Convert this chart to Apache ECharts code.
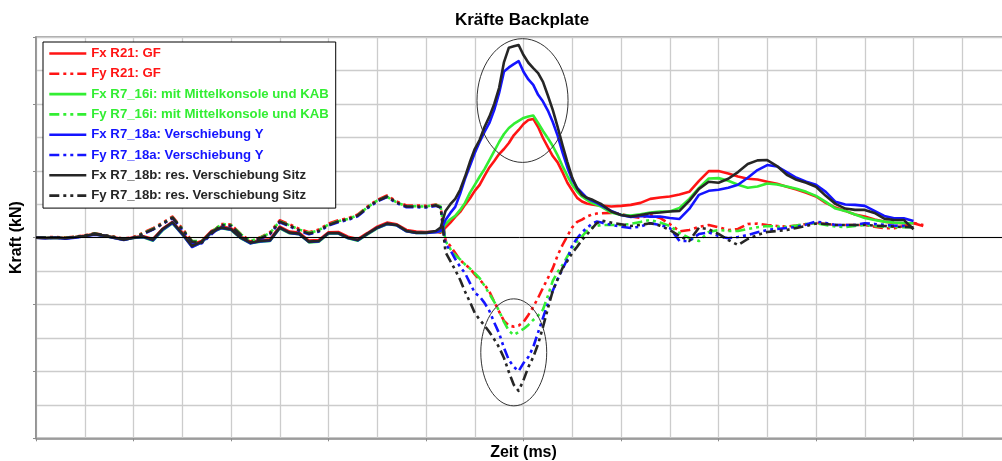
<!DOCTYPE html>
<html>
<head>
<meta charset="utf-8">
<script src="https://cdn.jsdelivr.net/npm/echarts@6/dist/echarts.min.js"></script>
<style>
  html, body { margin: 0; padding: 0; background: #fff; }
  #chart { width: 1002px; height: 461px; }
</style>
</head>
<body>
<div id="chart"></div>
<script>
// Sample times (ms); finer steps around the main impact
const timeMs = [
  0, 1, 2, 3, 4, 5, 6, 7, 8, 9, 10, 11, 12, 13, 14, 15, 16, 17, 18, 19, 20,
  21, 22, 23, 24, 25, 26, 27, 28, 29, 30, 31, 32, 33, 34, 35, 36, 37, 38, 39, 40, 41,
  41.5, 42, 42.5, 43, 43.5, 44, 44.5, 45, 45.5, 46, 46.5, 47, 47.5, 48, 48.5, 49, 49.5,
  50, 50.5, 51, 51.5, 52, 52.5, 53, 53.5, 54, 54.5, 55, 55.5, 56, 56.5, 57, 57.5, 58,
  59, 60, 61, 62, 63, 64, 65, 66, 67, 68, 69, 70, 71, 72, 73, 74, 75, 76, 77, 78, 79,
  80, 81, 82, 83, 84, 85, 86, 87, 88, 89, 90, 91
];

// Forces (kN) per load case
const fxR21 = [
  0.0, -0.01, 0.01, -0.01, 0.02, 0.06, 0.11, 0.06, 0.01, -0.05, 0.01, 0.04, -0.04, 0.27, 0.47, 0.15, -0.2, -0.1, 0.2, 0.33, 0.28,
  0.03, -0.12, -0.08, -0.05, 0.33, 0.18, 0.15, -0.09, -0.07, 0.16, 0.17, 0.03, -0.04, 0.14, 0.33, 0.45, 0.4, 0.23, 0.18, 0.17, 0.18,
  0.15, 0.3, 0.45, 0.62, 0.77, 0.98, 1.17, 1.4, 1.58, 1.85, 2.1, 2.29, 2.5, 2.65, 2.83, 3.06, 3.22,
  3.4, 3.52, 3.55, 3.31, 2.98, 2.71, 2.44, 2.25, 1.96, 1.64, 1.41, 1.19, 1.08, 1.02, 0.99, 0.97, 0.96,
  0.93, 0.95, 0.98, 1.04, 1.16, 1.2, 1.23, 1.29, 1.37, 1.7, 1.99, 1.99, 1.92, 1.83, 1.76, 1.74, 1.67, 1.61, 1.52, 1.44, 1.34,
  1.23, 1.04, 0.9, 0.8, 0.69, 0.63, 0.54, 0.48, 0.44, 0.43, 0.43, 0.35
];
const fyR21 = [
  0.0, 0.01, 0.02, 0.0, 0.03, 0.07, 0.13, 0.08, 0.03, -0.03, 0.02, 0.15, 0.28, 0.45, 0.63, 0.28, -0.1, -0.12, 0.15, 0.41, 0.39,
  0.11, -0.11, 0.01, 0.16, 0.52, 0.4, 0.26, 0.16, 0.24, 0.42, 0.52, 0.58, 0.69, 0.93, 1.13, 1.26, 1.08, 0.96, 0.96, 0.95, 0.99,
  0.92, -0.07, -0.25, -0.46, -0.67, -0.8, -0.92, -1.1, -1.26, -1.41, -1.61, -1.92, -2.21, -2.49, -2.63, -2.66, -2.63,
  -2.52, -2.31, -2.07, -1.8, -1.5, -1.21, -0.92, -0.53, -0.22, 0.05, 0.31, 0.47, 0.54, 0.63, 0.69, 0.72, 0.73,
  0.74, 0.71, 0.63, 0.59, 0.68, 0.59, 0.41, 0.19, 0.23, 0.32, 0.38, 0.31, 0.23, 0.26, 0.41, 0.42, 0.38, 0.35, 0.33, 0.36, 0.41,
  0.44, 0.41, 0.38, 0.38, 0.38, 0.38, 0.33, 0.28, 0.28, 0.35, 0.44, 0.38
];
const fxR716i = [
  0.0, -0.01, 0.0, -0.02, 0.01, 0.05, 0.1, 0.05, 0.0, -0.06, -0.01, 0.01, -0.09, 0.22, 0.43, 0.1, -0.27, -0.15, 0.15, 0.28, 0.23,
  -0.02, -0.17, -0.12, -0.1, 0.28, 0.13, 0.1, -0.14, -0.12, 0.12, 0.12, -0.02, -0.09, 0.1, 0.28, 0.4, 0.37, 0.19, 0.14, 0.14, 0.17,
  0.18, 0.4, 0.55, 0.65, 0.83, 1.04, 1.34, 1.58, 1.82, 2.05, 2.32, 2.59, 2.86, 3.1, 3.28, 3.4, 3.49,
  3.58, 3.62, 3.65, 3.43, 3.19, 2.97, 2.74, 2.46, 2.14, 1.85, 1.58, 1.38, 1.23, 1.13, 1.04, 0.98, 0.92,
  0.75, 0.68, 0.66, 0.7, 0.75, 0.78, 0.78, 0.89, 1.16, 1.49, 1.77, 1.78, 1.7, 1.58, 1.49, 1.53, 1.62, 1.59, 1.53, 1.46, 1.37,
  1.25, 1.07, 0.87, 0.8, 0.69, 0.59, 0.53, 0.48, 0.45, 0.44, 0.43, null
];
const fyR716i = [
  0.0, 0.0, 0.01, -0.01, 0.02, 0.06, 0.12, 0.07, 0.02, -0.04, 0.0, 0.13, 0.26, 0.43, 0.6, 0.26, -0.1, -0.1, 0.16, 0.4, 0.38,
  0.1, -0.1, 0.0, 0.14, 0.49, 0.37, 0.24, 0.14, 0.22, 0.39, 0.49, 0.56, 0.67, 0.91, 1.11, 1.22, 1.05, 0.94, 0.94, 0.93, 0.98,
  0.93, -0.1, -0.34, -0.52, -0.65, -0.8, -0.92, -1.06, -1.21, -1.44, -1.68, -1.92, -2.19, -2.52, -2.79, -2.91, -2.82,
  -2.73, -2.61, -2.46, -2.33, -2.15, -1.74, -1.29, -1.03, -0.82, -0.56, -0.31, -0.11, 0.04, 0.2, 0.3, 0.35, 0.38,
  0.38, 0.38, 0.41, 0.47, 0.53, 0.45, 0.35, 0.14, -0.01, -0.1, 0.17, 0.23, 0.2, 0.2, 0.26, 0.31, 0.35, 0.33, 0.32, 0.36, 0.41,
  0.43, 0.38, 0.33, 0.32, 0.35, 0.38, 0.35, 0.33, 0.32, 0.31, 0.31, null
];
const fxR718a = [
  0.0, -0.02, 0.0, -0.03, 0.0, 0.04, 0.09, 0.06, -0.01, -0.07, 0.0, 0.02, -0.08, 0.24, 0.44, 0.1, -0.28, -0.14, 0.16, 0.29, 0.24,
  -0.01, -0.17, -0.11, -0.09, 0.29, 0.14, 0.1, -0.13, -0.11, 0.13, 0.13, -0.01, -0.08, 0.11, 0.29, 0.41, 0.37, 0.19, 0.14, 0.14, 0.16,
  0.2, 0.53, 0.74, 0.92, 1.31, 1.76, 2.14, 2.53, 2.86, 3.16, 3.43, 3.82, 4.33, 4.97, 5.09, 5.19, 5.28,
  4.96, 4.73, 4.57, 4.27, 4.07, 3.8, 3.46, 3.05, 2.55, 2.1, 1.73, 1.49, 1.34, 1.19, 1.11, 1.04, 0.96,
  0.8, 0.68, 0.62, 0.65, 0.63, 0.63, 0.59, 0.56, 0.86, 1.28, 1.4, 1.43, 1.49, 1.58, 1.79, 2.02, 2.17, 2.13, 1.96, 1.79, 1.67,
  1.58, 1.37, 1.07, 0.99, 0.98, 0.95, 0.8, 0.65, 0.58, 0.58, 0.5, null
];
const fyR718a = [
  0.0, -0.01, 0.0, -0.02, 0.01, 0.05, 0.11, 0.06, 0.01, -0.05, -0.01, 0.11, 0.24, 0.41, 0.58, 0.23, -0.15, -0.17, 0.1, 0.36, 0.34,
  0.06, -0.16, -0.04, 0.1, 0.46, 0.34, 0.2, 0.1, 0.18, 0.36, 0.46, 0.53, 0.64, 0.88, 1.08, 1.21, 1.03, 0.91, 0.91, 0.9, 0.95,
  0.9, -0.2, -0.37, -0.64, -0.87, -1.06, -1.35, -1.65, -1.76, -1.95, -2.19, -2.54, -2.86, -3.3, -3.66, -3.86, -3.99,
  -3.75, -3.57, -3.27, -2.83, -2.4, -1.97, -1.59, -1.25, -0.94, -0.64, -0.23, -0.02, 0.16, 0.29, 0.41, 0.48, 0.45,
  0.38, 0.33, 0.29, 0.33, 0.43, 0.38, 0.29, -0.1, -0.1, 0.11, 0.16, 0.05, -0.02, 0.02, 0.08, 0.16, 0.23, 0.26, 0.29, 0.32, 0.39,
  0.48, 0.44, 0.38, 0.38, 0.38, 0.43, 0.41, 0.38, 0.36, 0.35, 0.31, null
];
const fxR718b = [
  0.0, -0.01, 0.0, -0.02, 0.01, 0.05, 0.1, 0.06, 0.0, -0.06, 0.0, 0.03, -0.06, 0.26, 0.46, 0.12, -0.25, -0.12, 0.18, 0.3, 0.25,
  0.0, -0.15, -0.1, -0.08, 0.3, 0.15, 0.12, -0.12, -0.1, 0.14, 0.14, 0.0, -0.07, 0.12, 0.3, 0.42, 0.38, 0.2, 0.15, 0.15, 0.2,
  0.3, 0.8, 1.0, 1.16, 1.43, 1.82, 2.26, 2.65, 2.92, 3.31, 3.62, 4.0, 4.48, 5.25, 5.68, 5.72, 5.76,
  5.46, 5.23, 5.07, 4.92, 4.66, 4.25, 3.82, 3.31, 2.77, 2.26, 1.79, 1.47, 1.28, 1.19, 1.14, 1.07, 1.0,
  0.78, 0.68, 0.63, 0.68, 0.73, 0.75, 0.78, 0.8, 1.1, 1.46, 1.67, 1.64, 1.76, 1.96, 2.2, 2.31, 2.32, 2.14, 1.88, 1.73, 1.64,
  1.52, 1.25, 1.01, 0.87, 0.83, 0.83, 0.74, 0.57, 0.53, 0.53, 0.25, null
];
const fyR718b = [
  0.0, 0.0, 0.01, -0.01, 0.02, 0.06, 0.12, 0.07, 0.02, -0.04, 0.0, 0.12, 0.25, 0.42, 0.6, 0.25, -0.12, -0.15, 0.12, 0.38, 0.36,
  0.08, -0.14, -0.02, 0.12, 0.48, 0.36, 0.22, 0.12, 0.2, 0.38, 0.48, 0.55, 0.66, 0.9, 1.1, 1.23, 1.05, 0.93, 0.93, 0.92, 0.97,
  0.9, -0.43, -0.7, -0.97, -1.26, -1.61, -1.92, -2.25, -2.45, -2.63, -2.82, -3.04, -3.28, -3.6, -4.02, -4.4, -4.58,
  -4.26, -3.87, -3.57, -3.18, -2.67, -2.12, -1.59, -1.24, -0.91, -0.7, -0.46, -0.27, -0.07, 0.09, 0.26, 0.43, 0.51,
  0.45, 0.4, 0.35, 0.38, 0.43, 0.36, 0.23, 0.05, -0.1, 0.3, 0.25, 0.11, -0.07, -0.22, -0.04, 0.08, 0.17, 0.2, 0.23, 0.29, 0.35,
  0.42, 0.41, 0.38, 0.38, 0.38, 0.38, 0.36, 0.35, 0.33, 0.32, 0.31, null
];

const seriesNames = [
  'Fx R21: GF',
  'Fy R21: GF',
  'Fx R7_16i: mit Mittelkonsole und KAB',
  'Fy R7_16i: mit Mittelkonsole und KAB',
  'Fx R7_18a: Verschiebung Y',
  'Fy R7_18a: Verschiebung Y',
  'Fx R7_18b: res. Verschiebung Sitz',
  'Fy R7_18b: res. Verschiebung Sitz'
];
const seriesValues = [fxR21, fyR21, fxR716i, fyR716i, fxR718a, fyR718a, fxR718b, fyR718b];
const seriesColors = ['#ff1414', '#ff1414', '#33ee33', '#33ee33', '#1414ff', '#1414ff', '#262626', '#262626'];

// Highlight ellipses: centre time, centre force, half-width (ms), half-height (kN)
const highlightEllipses = [
  [49.9, 4.1, 4.67, 1.85],
  [49.0, -3.43, 3.38, 1.6]
];

const FONT = '"Liberation Sans", Arial, sans-serif';
const GRID_COLOR = '#cccccc';
const FRAME_COLOR = '#8c8c8c';
const DASH_DOT_DOT = [10, 4, 3, 4, 3, 4];

function toPairs(vals) {
  return timeMs.map((t, i) => [t, vals[i] == null ? null : vals[i]]);
}

const lineSeries = seriesNames.map((name, i) => {
  const s = {
    name: name,
    type: 'line',
    data: toPairs(seriesValues[i]),
    symbol: 'none',
    showSymbol: false,
    animation: false,
    silent: true,
    lineStyle: {
      color: seriesColors[i],
      width: 2.6,
      type: name.startsWith('Fy') ? DASH_DOT_DOT : 'solid',
      join: 'round'
    },
    itemStyle: { color: seriesColors[i] }
  };
  if (i === 0) {
    s.markLine = {
      silent: true,
      symbol: 'none',
      animation: false,
      label: { show: false },
      lineStyle: { color: '#000', width: 1, type: 'solid' },
      data: [{ yAxis: 0 }]
    };
  }
  return s;
});

const ellipseSeries = {
  type: 'custom',
  name: 'Markierung',
  data: highlightEllipses,
  silent: true,
  animation: false,
  z: 5,
  encode: { x: 0, y: 1 },
  renderItem: function (params, api) {
    const c = api.coord([api.value(0), api.value(1)]);
    const s = api.size([api.value(2), api.value(3)]);
    return {
      type: 'ellipse',
      shape: { cx: c[0], cy: c[1], rx: s[0], ry: s[1] },
      style: { fill: 'none', stroke: '#333', lineWidth: 1 }
    };
  }
};

const chart = echarts.init(document.getElementById('chart'), null, { renderer: 'canvas' });
chart.setOption({
  animation: false,
  backgroundColor: '#fff',
  title: {
    text: 'Kräfte Backplate',
    left: 522,
    top: 12,
    textAlign: 'center',
    padding: 0,
    textStyle: { fontFamily: FONT, fontWeight: 'bold', fontSize: 17, color: '#000' }
  },
  legend: {
    orient: 'vertical',
    left: 43,
    top: 42,
    itemWidth: 37,
    itemHeight: 12,
    itemGap: 7.3,
    padding: [5, 7, 6, 5],
    borderColor: '#000',
    borderWidth: 1,
    backgroundColor: '#fff',
    selectedMode: false,
    itemStyle: { color: 'rgba(0,0,0,0)', borderWidth: 0, opacity: 0 },
    lineStyle: { width: 2.6 },
    textStyle: { fontFamily: FONT, fontWeight: 'bold', fontSize: 13.2, lineHeight: 12 },
    data: seriesNames.map((n, i) => ({ name: n, textStyle: { color: seriesColors[i] } }))
  },
  grid: {
    left: 36,
    top: 37,
    right: -9,
    bottom: 22.7,
    containLabel: false,
    outerBoundsMode: 'none',
    show: true,
    borderColor: FRAME_COLOR,
    borderWidth: 1.5,
    backgroundColor: 'transparent'
  },
  xAxis: {
    type: 'value',
    min: 0,
    max: 100,
    interval: 10,
    name: 'Zeit (ms)',
    nameLocation: 'middle',
    nameGap: 6,
    nameTextStyle: { fontFamily: FONT, fontWeight: 'bold', fontSize: 16, color: '#000' },
    axisLine: { show: true, onZero: false, lineStyle: { color: FRAME_COLOR, width: 1.5 } },
    axisTick: { show: true, length: 3, lineStyle: { color: FRAME_COLOR } },
    axisLabel: { show: false },
    splitLine: { show: true, lineStyle: { color: GRID_COLOR, width: 1.3 } },
    minorTick: { show: false, splitNumber: 2 },
    minorSplitLine: { show: true, lineStyle: { color: GRID_COLOR, width: 1.3 } }
  },
  yAxis: {
    type: 'value',
    min: -6,
    max: 6,
    interval: 2,
    name: 'Kraft (kN)',
    nameLocation: 'middle',
    nameGap: 11,
    nameTextStyle: { fontFamily: FONT, fontWeight: 'bold', fontSize: 16, color: '#000' },
    axisLine: { show: true, onZero: false, lineStyle: { color: FRAME_COLOR, width: 1.5 } },
    axisTick: { show: true, length: 3, lineStyle: { color: FRAME_COLOR } },
    axisLabel: { show: false },
    splitLine: { show: true, lineStyle: { color: GRID_COLOR, width: 1.3 } },
    minorTick: { show: false, splitNumber: 2 },
    minorSplitLine: { show: true, lineStyle: { color: GRID_COLOR, width: 1.3 } }
  },
  series: lineSeries.concat([ellipseSeries])
});
</script>
</body>
</html>
